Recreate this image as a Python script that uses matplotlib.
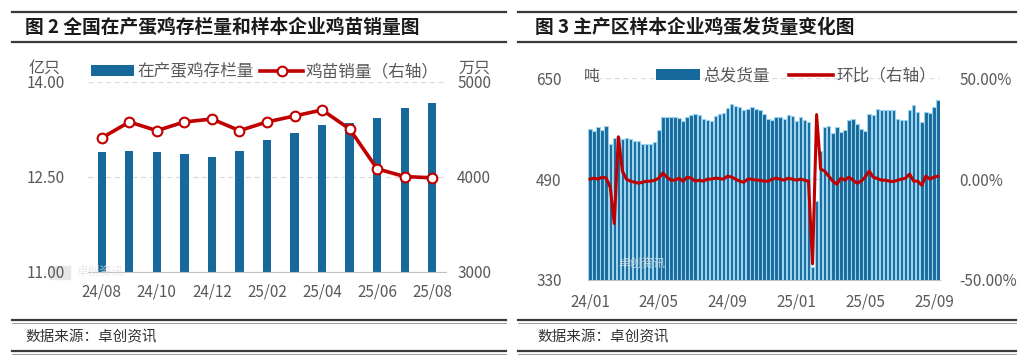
import matplotlib
matplotlib.use("Agg")
import matplotlib.pyplot as plt
from matplotlib.lines import Line2D
from matplotlib.patches import Patch, Rectangle

plt.rcParams["font.family"] = ["Noto Sans CJK SC", "DejaVu Sans"]

# ----------------------------------------------------
# Data: figure 2 (monthly)
# ----------------------------------------------------
months = ["24/08", "24/09", "24/10", "24/11", "24/12", "25/01", "25/02",
          "25/03", "25/04", "25/05", "25/06", "25/07", "25/08"]
layer_stock = [12.89, 12.91, 12.89, 12.86, 12.82, 12.91, 13.08,
               13.19, 13.31, 13.35, 13.42, 13.59, 13.67]          # 亿只
chick_sales = [4409, 4577, 4486, 4577, 4608, 4486, 4577,
               4640, 4703, 4503, 4084, 4003, 3990]                # 万只

# ----------------------------------------------------
# Data: figure 3 (weekly, 24/01 - 25/09)
# ----------------------------------------------------
ship_volume = [569, 567, 572, 568, 574, 546, 556, 557, 553, 555,
               554, 551, 550, 545, 546, 546, 549, 568, 589, 589,
               588, 589, 587, 582, 588, 591, 594, 592, 585, 584,
               583, 590, 594, 595, 603, 609, 606, 604, 600, 602,
               604, 602, 600, 593, 586, 584, 588, 588, 586, 591,
               590, 583, 589, 584, 581, 350, 455, 535, 573, 574,
               563, 572, 565, 568, 584, 586, 577, 570, 567, 593,
               591, 602, 600, 599, 600, 600, 586, 584, 584, 600,
               607, 597, 581, 597, 595, 604, 616]                 # 吨
ship_mom = [0, 0.5, 0, 1, 0.5, -4, -22, 21, 4, 0,
            -1, -1.5, -2, -1.5, -1, -1, -0.5, 0.5, 3, 1,
            -0.5, -0.5, 0.5, -1, 1, 0.5, -1, -0.5, -1, 0,
            0, 0.5, 0.3, 0, 1.5, 1, 0, -1, -1.5, 0,
            0, -0.5, -0.5, -1, -1, 0, 0.5, 0, -0.5, 0.5,
            0, -0.5, 0, -0.5, -1, -42, 32, 5, 4, 1.5,
            -1, -2.5, 0.5, -0.5, 1, -0.5, -2, -1, 1, 4,
            1, 0.3, -0.5, -0.5, -1, -1.2, -0.5, 0, 0.5, 2.5,
            -1, -1, -3, 1.5, 0, 1, 1.5]                           # %
week_labels = ["24/01", "24/05", "24/09", "25/01", "25/05", "25/09"]
week_label_idx = [0, 17, 34, 51, 68, 85]

BLUE = "#17699B"
LIGHT_BLUE = "#9BD4EE"
RED = "#C00000"
GRAY = "#595959"
GRID = "#D9D9D9"

W, H = 1026, 364
fig = plt.figure(figsize=(W / 100, H / 100), dpi=100)


def fy(y):
    return 1 - y / H


def hline(x0, x1, y, lw, color="#3A3A3A"):
    fig.add_artist(Line2D([x0 / W, x1 / W], [fy(y), fy(y)], lw=lw,
                          color=color, transform=fig.transFigure))


# ----------------------------------------------------
# Frame lines, titles, sources
# ----------------------------------------------------
for x0, x1 in [(12, 506), (518, 1016)]:
    hline(x0, x1, 12, 1.6)
    hline(x0, x1, 42, 1.6)
    hline(x0, x1, 320, 1.6)
    hline(x0, x1, 322.5, 0.6, "#8C8C8C")
    hline(x0, x1, 351, 1.6)
    hline(x0, x1, 353.5, 0.6, "#8C8C8C")

fig.text(25 / W, fy(27), "图 2 全国在产蛋鸡存栏量和样本企业鸡苗销量图",
         fontsize=13.5, fontweight="bold", va="center", color="#1A1A1A")
fig.text(535 / W, fy(27), "图 3 主产区样本企业鸡蛋发货量变化图",
         fontsize=13.5, fontweight="bold", va="center", color="#1A1A1A")
fig.text(25 / W, fy(337), "数据来源：卓创资讯", fontsize=10.5,
         va="center", color="#333333")
fig.text(537 / W, fy(337), "数据来源：卓创资讯", fontsize=10.5,
         va="center", color="#333333")

# watermarks (faint)
for lx, ly in [(50, 266), (592, 258)]:
    fig.add_artist(Rectangle((lx / W, fy(ly + 13)), 20 / W, 13 / H,
                             transform=fig.transFigure, color="#E6E6E6",
                             zorder=0))
    fig.text((lx + 26) / W, fy(ly + 5), "卓创资讯", fontsize=8.5,
             color="#E2E2E2", va="center", alpha=0.8)


def style_axes(ax):
    for side in ["top", "left", "right"]:
        ax.spines[side].set_visible(False)
    ax.spines["bottom"].set_color("#BFBFBF")
    ax.tick_params(length=0, colors=GRAY, labelsize=11)


# ----------------------------------------------------
# Figure 2
# ----------------------------------------------------
ax1 = fig.add_axes([88 / W, fy(272), 358 / W, (272 - 81.7) / H])
x1 = list(range(len(months)))
ax1.bar(x1, layer_stock, width=0.3, bottom=0, color=BLUE, zorder=2)
ax1.set_ylim(11, 14)
ax1.set_xlim(-0.5, len(months) - 0.5)
ax1.set_yticks([11, 12.5, 14])
ax1.set_yticklabels([f"{v:.2f}" for v in [11, 12.5, 14]])
ax1.set_xticks(x1[::2])
ax1.set_xticklabels(months[::2])
ax1.yaxis.grid(True, ls=(0, (4, 3)), color=GRID, lw=0.9)
ax1.set_axisbelow(True)
style_axes(ax1)
ax1.tick_params(axis="y", pad=17)
ax1.tick_params(axis="x", pad=8)

ax2 = ax1.twinx()
ax2.plot(x1, chick_sales, color=RED, lw=2.6, marker="o", ms=7,
         mfc="white", mec=RED, mew=1.5, zorder=3)
ax2.set_ylim(3000, 5000)
ax2.set_yticks([3000, 4000, 5000])
style_axes(ax2)
ax2.spines["bottom"].set_visible(False)
ax2.tick_params(axis="y", pad=8)

fig.text(45 / W, fy(68), "亿只", fontsize=11.5, color=GRAY,
         ha="center", va="center")
fig.text(474 / W, fy(68), "万只", fontsize=11.5, color=GRAY,
         ha="center", va="center")

fig.legend(handles=[Patch(facecolor=BLUE),
                    Line2D([], [], color=RED, lw=2.6, marker="o", ms=7,
                           mfc="white", mec=RED, mew=1.5)],
           labels=["在产蛋鸡存栏量", "鸡苗销量（右轴）"],
           loc="center", bbox_to_anchor=(265 / W, fy(72)), ncol=2,
           frameon=False, fontsize=12, handlelength=2.6, handleheight=0.6,
           handletextpad=0.15, columnspacing=0.4, labelcolor=GRAY,
           borderpad=0)

# ----------------------------------------------------
# Figure 3
# ----------------------------------------------------
ax3 = fig.add_axes([588 / W, fy(280), 352 / W, (280 - 78.3) / H])
x3 = list(range(len(ship_volume)))
ax3.bar(x3, ship_volume, width=0.85, color=BLUE, edgecolor=LIGHT_BLUE,
        linewidth=0.8, zorder=2)
ax3.set_ylim(330, 650)
ax3.set_xlim(-0.5, len(ship_volume) - 0.5)
ax3.set_yticks([330, 490, 650])
ax3.set_xticks(week_label_idx)
ax3.set_xticklabels(week_labels)
ax3.yaxis.grid(True, ls=(0, (4, 3)), color=GRID, lw=0.9)
ax3.set_axisbelow(True)
style_axes(ax3)
ax3.tick_params(axis="y", pad=19)
ax3.tick_params(axis="x", pad=10)

ax4 = ax3.twinx()
ax4.plot(x3, ship_mom, color=RED, lw=2.2, zorder=3)
ax4.set_ylim(-50, 50)
ax4.set_yticks([-50, 0, 50])
ax4.set_yticklabels([f"{v:.2f}%" for v in [-50, 0, 50]])
style_axes(ax4)
ax4.spines["bottom"].set_visible(False)
ax4.tick_params(axis="y", pad=14)

fig.text(592 / W, fy(76), "吨", fontsize=11.5, color=GRAY,
         ha="center", va="center")

fig.legend(handles=[Patch(facecolor=BLUE),
                    Line2D([], [], color=RED, lw=2.6)],
           labels=["总发货量", "环比（右轴）"],
           loc="center", bbox_to_anchor=(796 / W, fy(76)), ncol=2,
           frameon=False, fontsize=12, handlelength=2.6, handleheight=0.6,
           handletextpad=0.2, columnspacing=1.2, labelcolor=GRAY,
           borderpad=0)

fig.savefig("out.png", dpi=100, facecolor="white")
